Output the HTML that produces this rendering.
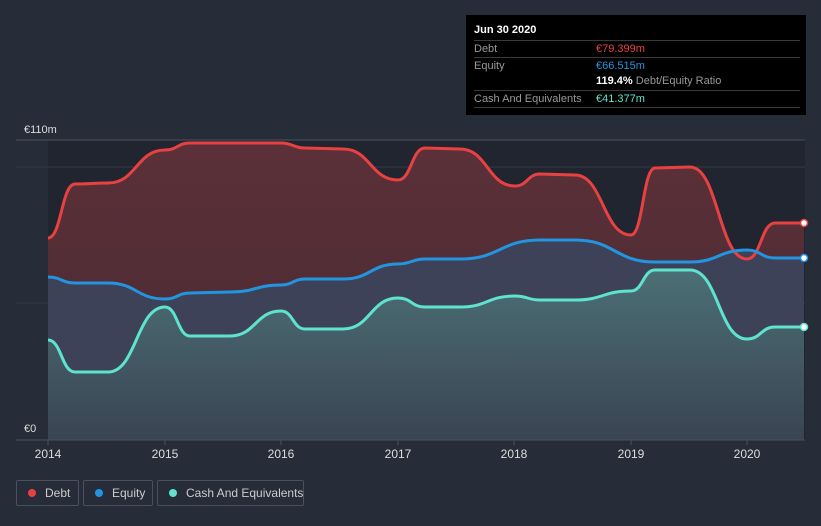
<!DOCTYPE html>
<html><head><meta charset="utf-8"><style>
body{margin:0;background:#262c38;font-family:"Liberation Sans",sans-serif;}
.wrap{position:relative;width:821px;height:526px;overflow:hidden;background:#262c38}
.tt{position:absolute;left:466px;top:15px;width:340px;height:100px;background:#000;color:#fff;font-size:11px}
.tt .r{position:absolute;left:8px;right:6px;border-top:1px solid #3a3a3a;height:16px;line-height:16px;color:#999}
.lg{position:absolute;top:480px;height:26px;border:1px solid #4a5060;border-radius:2px;color:#ccc;font-size:12px;line-height:24px;box-sizing:border-box;white-space:nowrap}
.lg i{display:inline-block;width:8px;height:8px;border-radius:50%;margin:0 9px 0 11px;vertical-align:0}
</style></head><body><div class="wrap">
<svg width="821" height="526" style="position:absolute;left:0;top:0">
<defs>
<linearGradient id="dg" x1="0" y1="0" x2="0" y2="1"><stop offset="0" stop-color="#5c3038"/><stop offset="1" stop-color="#472a33"/></linearGradient>
<linearGradient id="cg" x1="0" y1="0" x2="0" y2="1"><stop offset="0" stop-color="#4b6f75"/><stop offset="1" stop-color="#3a4452"/></linearGradient>
</defs>
<rect x="48" y="140" width="757" height="300" fill="#20252f"/>
<line x1="16" y1="140" x2="805" y2="140" stroke="#4a505c"/>
<line x1="16" y1="167" x2="805" y2="167" stroke="#333945"/>
<line x1="16" y1="303" x2="805" y2="303" stroke="#333945"/>
<path d="M48,238 C61.5,238 61.5,184 75,184 C91.5,184 91.5,183 108,183 C136.5,183 136.5,150 165,150 C177.5,150 177.5,143 190,143 L281,143 C293,143 293,148 305,148 L343,149 C370.5,149 370.5,180 398,180 C411.5,180 411.5,148 425,148 L460,149 C487.5,149 487.5,186 515,186 C527.5,186 527.5,174 540,174 L575,175 C603,175 603,235 631,235 C643,235 643,168 655,168 L690,167 C718.5,167 718.5,259 747,259 C761,259 761,223 775,223 L804,223 L804,440 L48,440Z" fill="url(#dg)"/>
<path d="M48,277 C61.5,277 61.5,283 75,283 L108,283 C136.5,283 136.5,299 165,299 C177.5,299 177.5,293 190,293 L230,292 C255.5,292 255.5,285 281,285 C293,285 293,279 305,279 L343,279 C370.5,279 370.5,264 398,264 C411.5,264 411.5,259 425,259 L460,259 C500,259 500,240 540,240 L575,240 C615,240 615,262 655,262 L690,262 C718.5,262 718.5,250 747,250 C761,250 761,258 775,258 L804,258 L804,440 L48,440Z" fill="#3d4259"/>
<path d="M48,340 C61.5,340 61.5,372 75,372 L108,372 C136.5,372 136.5,307 165,307 C177.5,307 177.5,336 190,336 L230,336 C255.5,336 255.5,311 281,311 C293,311 293,329 305,329 L343,329 C370.5,329 370.5,298 398,298 C411.5,298 411.5,307 425,307 L460,307 C487.5,307 487.5,296 515,296 C527.5,296 527.5,300 540,300 L575,300 C603,300 603,291 631,291 C643,291 643,270 655,270 L690,270 C718.5,270 718.5,339 747,339 C761,339 761,327 775,327 L804,327 L804,440 L48,440Z" fill="url(#cg)"/>
<g fill="none" stroke-width="3" stroke-linejoin="round">
<path d="M48,238 C61.5,238 61.5,184 75,184 C91.5,184 91.5,183 108,183 C136.5,183 136.5,150 165,150 C177.5,150 177.5,143 190,143 L281,143 C293,143 293,148 305,148 L343,149 C370.5,149 370.5,180 398,180 C411.5,180 411.5,148 425,148 L460,149 C487.5,149 487.5,186 515,186 C527.5,186 527.5,174 540,174 L575,175 C603,175 603,235 631,235 C643,235 643,168 655,168 L690,167 C718.5,167 718.5,259 747,259 C761,259 761,223 775,223 L804,223" stroke="#e84142"/>
<path d="M48,277 C61.5,277 61.5,283 75,283 L108,283 C136.5,283 136.5,299 165,299 C177.5,299 177.5,293 190,293 L230,292 C255.5,292 255.5,285 281,285 C293,285 293,279 305,279 L343,279 C370.5,279 370.5,264 398,264 C411.5,264 411.5,259 425,259 L460,259 C500,259 500,240 540,240 L575,240 C615,240 615,262 655,262 L690,262 C718.5,262 718.5,250 747,250 C761,250 761,258 775,258 L804,258" stroke="#2394df"/>
<path d="M48,340 C61.5,340 61.5,372 75,372 L108,372 C136.5,372 136.5,307 165,307 C177.5,307 177.5,336 190,336 L230,336 C255.5,336 255.5,311 281,311 C293,311 293,329 305,329 L343,329 C370.5,329 370.5,298 398,298 C411.5,298 411.5,307 425,307 L460,307 C487.5,307 487.5,296 515,296 C527.5,296 527.5,300 540,300 L575,300 C603,300 603,291 631,291 C643,291 643,270 655,270 L690,270 C718.5,270 718.5,339 747,339 C761,339 761,327 775,327 L804,327" stroke="#5ee3cf"/>
</g>
<circle cx="804" cy="223" r="3.5" fill="#fff" stroke="#e84142" stroke-width="1.5"/>
<circle cx="804" cy="258" r="3.5" fill="#fff" stroke="#2394df" stroke-width="1.5"/>
<circle cx="804" cy="327" r="3.5" fill="#fff" stroke="#5ee3cf" stroke-width="1.5"/>
<line x1="16" y1="440" x2="805" y2="440" stroke="#4a505c"/>
<g stroke="#4a505c"><line x1="48" y1="440" x2="48" y2="445"/><line x1="165" y1="440" x2="165" y2="445"/><line x1="281" y1="440" x2="281" y2="445"/><line x1="398" y1="440" x2="398" y2="445"/><line x1="514" y1="440" x2="514" y2="445"/><line x1="631" y1="440" x2="631" y2="445"/><line x1="747" y1="440" x2="747" y2="445"/></g>
<g fill="#ddd" font-size="12" text-anchor="middle" font-family="Liberation Sans,sans-serif">
<text x="48" y="458">2014</text><text x="165" y="458">2015</text><text x="281" y="458">2016</text><text x="398" y="458">2017</text><text x="514" y="458">2018</text><text x="631" y="458">2019</text><text x="747" y="458">2020</text>
</g>
<text x="24" y="133" fill="#ddd" font-size="11" font-family="Liberation Sans,sans-serif">€110m</text>
<text x="24" y="432" fill="#ddd" font-size="11" font-family="Liberation Sans,sans-serif">€0</text>
</svg>
<div class="tt">
<div style="position:absolute;left:8px;top:9px;font-weight:bold;font-size:11px">Jun 30 2020</div>
<div class="r" style="top:25px">Debt<span style="position:absolute;left:122px;color:#e84142">€79.399m</span></div>
<div class="r" style="top:42px">Equity<span style="position:absolute;left:122px;color:#2394df">€66.515m</span></div>
<div class="r" style="top:58px;border-top:none"><span style="position:absolute;left:122px;color:#999"><b style="color:#fff">119.4%</b> Debt/Equity Ratio</span></div>
<div class="r" style="top:75px">Cash And Equivalents<span style="position:absolute;left:122px;color:#5ee3cf">€41.377m</span></div>
<div class="r" style="top:92px;height:0"></div>
</div>
<div class="lg" style="left:16px;width:63px"><i style="background:#e84142"></i>Debt</div>
<div class="lg" style="left:83px;width:70px"><i style="background:#2394df"></i>Equity</div>
<div class="lg" style="left:157px;width:147px"><i style="background:#5ee3cf"></i>Cash And Equivalents</div>
</div></body></html>
